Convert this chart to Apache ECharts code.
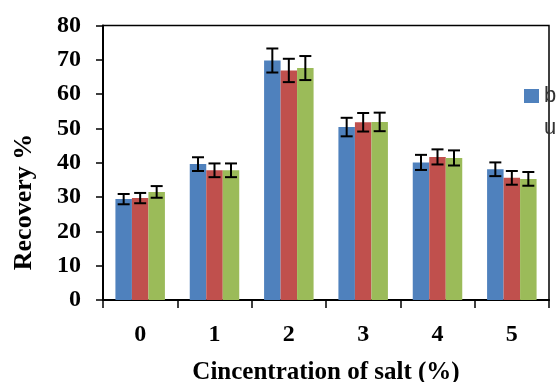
<!DOCTYPE html>
<html>
<head>
<meta charset="utf-8">
<script src="https://cdn.jsdelivr.net/npm/echarts@6/dist/echarts.min.js"></script>
<style>
html,body{margin:0;padding:0;background:#fff;}
#c{width:560px;height:382px;}
</style>
</head>
<body>
<div id="c"></div>
<script>
var categories = ['0', '1', '2', '3', '4', '5'];
var seriesNames = ['b', 'r', 'g'];
var blueValues = [29.4, 39.6, 69.8, 50.4, 40.1, 38.1];
var blueErrors = [1.5, 2.0, 3.5, 2.7, 2.2, 2.0];
var redValues = [29.7, 37.8, 66.9, 51.8, 41.7, 35.6];
var redErrors = [1.5, 2.0, 3.4, 2.7, 2.2, 2.0];
var greenValues = [31.5, 37.8, 67.6, 51.9, 41.4, 35.3];
var greenErrors = [1.7, 2.0, 3.5, 2.7, 2.2, 2.0];
var yTicks = [0, 10, 20, 30, 40, 50, 60, 70, 80];
var legendLine1 = 'b';
var legendLine2 = 'u';
var xTitle = 'Cincentration of salt (%)';
var yTitle = 'Recovery %';

var colors = ['#4F81BD', '#C0504D', '#9BBB59'];
var BAR_W = 16.5;
var serif = '"Liberation Serif", "Times New Roman", serif';

var valueSets = [blueValues, redValues, greenValues];
var errorSets = [blueErrors, redErrors, greenErrors];

var chart = echarts.init(document.getElementById('c'), null, {renderer: 'canvas'});

var series = [];
valueSets.forEach(function (vals, i) {
  series.push({
    name: seriesNames[i],
    type: 'bar',
    data: vals,
    barWidth: BAR_W,
    barGap: '0%',
    itemStyle: {color: colors[i]},
    z: 2
  });
});
valueSets.forEach(function (vals, i) {
  var errs = errorSets[i];
  var data = vals.map(function (v, k) { return [k, v - errs[k], v + errs[k]]; });
  series.push({
    type: 'custom',
    name: seriesNames[i] + '_err',
    z: 5,
    silent: true,
    data: data,
    renderItem: function (params, api) {
      var lo = api.coord([api.value(0), api.value(1)]);
      var hi = api.coord([api.value(0), api.value(2)]);
      var x = lo[0] + (i - 1) * BAR_W;
      var cap = 6;
      var st = {stroke: '#000', lineWidth: 2};
      return {
        type: 'group',
        children: [
          {type: 'line', shape: {x1: x, y1: lo[1], x2: x, y2: hi[1]}, style: st},
          {type: 'line', shape: {x1: x - cap, y1: lo[1], x2: x + cap, y2: lo[1]}, style: st},
          {type: 'line', shape: {x1: x - cap, y1: hi[1], x2: x + cap, y2: hi[1]}, style: st}
        ]
      };
    }
  });
});

chart.setOption({
  animation: false,
  grid: {
    left: 103, right: 11, top: 25.5, bottom: 82,
    containLabel: false,
    outerBoundsMode: 'none',
    show: true, borderColor: '#000', borderWidth: 1.5, backgroundColor: 'transparent'
  },
  legend: {
    data: [seriesNames[0]],
    left: 524, top: 85,
    padding: 0,
    itemWidth: 15, itemHeight: 14,
    itemGap: 5,
    icon: 'rect',
    formatter: function () { return legendLine1; },
    textStyle: {fontFamily: '"Liberation Sans", Arial, sans-serif', fontSize: 22, color: '#333'}
  },
  graphic: [
    {
      type: 'text', left: 544, top: 117,
      style: {text: legendLine2, font: '22px "Liberation Sans", Arial, sans-serif', fill: '#333'}
    },
    {
      type: 'text', x: 24, y: 202, rotation: Math.PI / 2,
      style: {text: yTitle, font: 'bold 26px ' + serif, fill: '#000', textAlign: 'center', textVerticalAlign: 'middle'}
    }
  ],
  xAxis: {
    type: 'category',
    data: categories,
    boundaryGap: true,
    name: xTitle,
    nameLocation: 'middle',
    nameGap: 60,
    nameTextStyle: {fontFamily: serif, fontWeight: 'bold', fontSize: 25, color: '#000'},
    axisLine: {lineStyle: {color: '#000', width: 2}},
    axisTick: {show: true, length: 8, lineStyle: {color: '#000', width: 1.5}},
    axisLabel: {margin: 23, fontFamily: serif, fontWeight: 'bold', fontSize: 24, color: '#000'},
    splitLine: {show: false}
  },
  yAxis: {
    type: 'value',
    min: yTicks[0], max: yTicks[yTicks.length - 1], interval: 10,
    axisLine: {show: true, lineStyle: {color: '#000', width: 2}},
    axisTick: {show: true, length: 7, lineStyle: {color: '#000', width: 1.5}},
    axisLabel: {margin: 22, fontFamily: serif, fontWeight: 'bold', fontSize: 24, color: '#000'},
    splitLine: {show: false}
  },
  series: series
});
</script>
</body>
</html>
